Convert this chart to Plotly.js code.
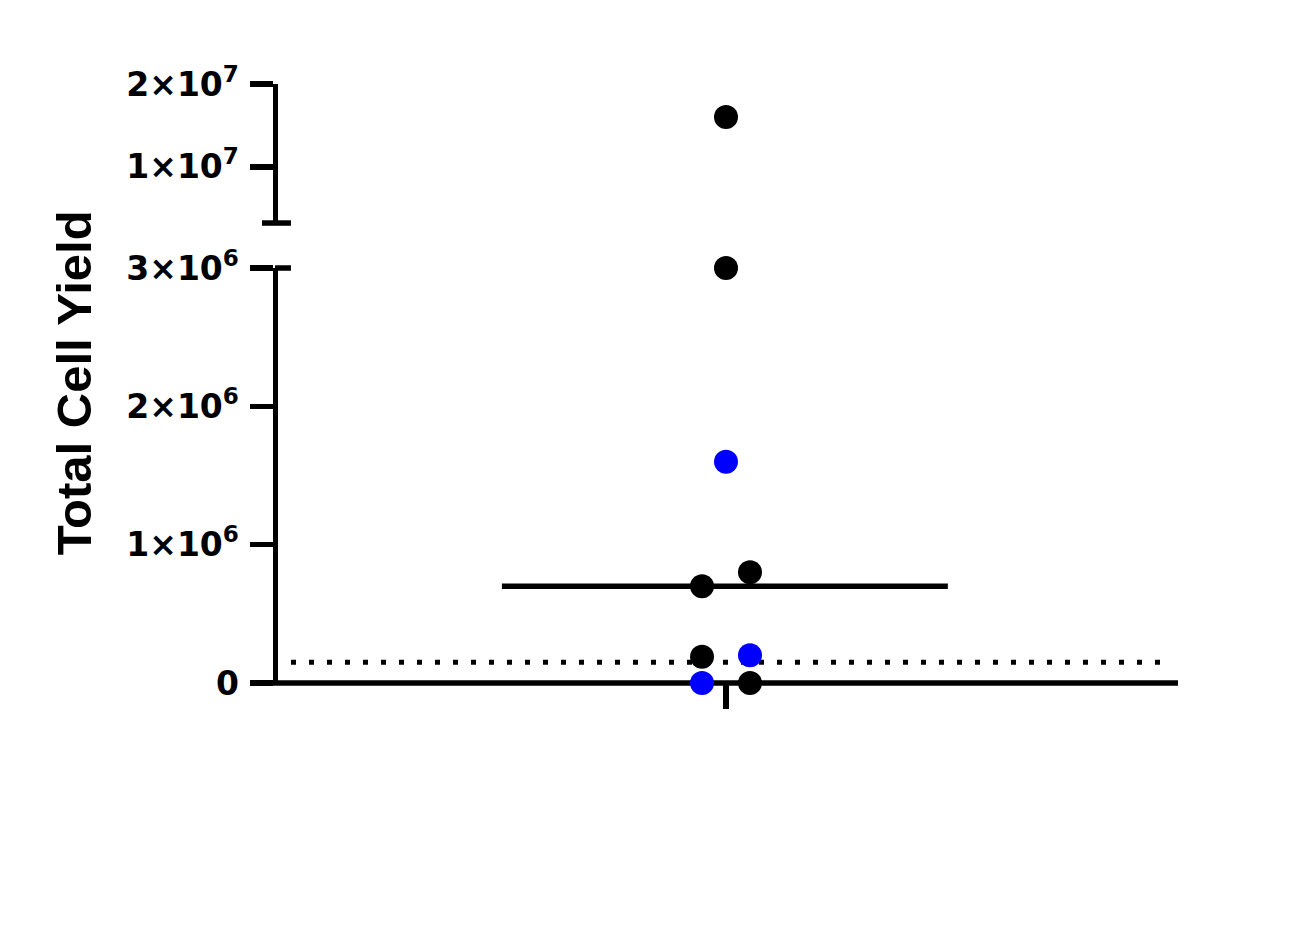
<!DOCTYPE html>
<html>
<head>
<meta charset="utf-8">
<script src="https://cdn.plot.ly/plotly-3.0.1.min.js"></script>
<style>html,body{margin:0;padding:0;background:#fff;}#chart{width:1314px;height:940px;}</style>
</head>
<body>
<div id="chart"></div>
<script>
// ---- data ----
const blackValues = [16000000, 3000000, 800000, 700000, 190000, 0];
const blackJitter = [0, 0, 0.0533, -0.0533, -0.0533, 0.0533];
const blueValues = [1600000, 200000, 0];
const blueJitter = [0, 0.0533, -0.0533];
const thresholdValue = 150000;
const lowerTickVals = [0, 1000000, 2000000, 3000000];
const lowerTickText = ['0', '1×10<sup>6</sup>', '2×10<sup>6</sup>', '3×10<sup>6</sup>'];
const upperTickVals = [10000000, 20000000];
const upperTickText = ['1×10<sup>7</sup>', '2×10<sup>7</sup>'];
const yTitle = 'Total Cell Yield';

const lowerMin = 0, lowerMax = 3000000, upperMin = 3200000, upperMax = 20000000;
const lowerDomain = [0, 0.6928], upperDomain = [0.7679, 1];

function median(a){const s=[...a].sort((p,q)=>p-q);const m=Math.floor(s.length/2);return s.length%2?s[m]:(s[m-1]+s[m])/2;}
const med = median(blackValues.concat(blueValues));

function split(vals, jit, color){
  const lo={x:[],y:[]}, hi={x:[],y:[]};
  vals.forEach((v,i)=>{ if(v>lowerMax){hi.x.push(jit[i]);hi.y.push(v);} else {lo.x.push(jit[i]);lo.y.push(v);} });
  const base={type:'scatter',mode:'markers',cliponaxis:false,hoverinfo:'y',marker:{size:24,color:color,line:{width:0}},showlegend:false};
  return [Object.assign({},base,{x:lo.x,y:lo.y,xaxis:'x',yaxis:'y'}),
          Object.assign({},base,{x:hi.x,y:hi.y,xaxis:'x',yaxis:'y2'})];
}
const traces = [...split(blackValues, blackJitter, '#000000'), ...split(blueValues, blueJitter, '#0000ff')];

const tickFont = {family:'DejaVu Sans, Liberation Sans, Arial, sans-serif', size:33, color:'#000', weight:'bold'};
const LW = 5.5;

const layout = {
  width:1314, height:940,
  margin:{l:278, r:136, t:84, b:257, pad:0},
  paper_bgcolor:'#fff', plot_bgcolor:'#fff',
  showlegend:false,
  xaxis:{range:[-0.99556, 1.00444], showgrid:false, zeroline:false, showline:false,
         tickmode:'array', tickvals:[0], ticktext:[''], ticks:'outside', ticklen:25, tickwidth:LW, tickcolor:'#000',
         anchor:'y', layer:'below traces', fixedrange:true},
  yaxis:{domain:lowerDomain, range:[lowerMin, lowerMax], showgrid:false, zeroline:false, showline:true, linecolor:'#000', linewidth:LW,
         tickmode:'array', tickvals:lowerTickVals, ticktext:lowerTickText, ticks:'outside', ticklen:23, tickwidth:LW, tickcolor:'#000',
         tickfont:tickFont, anchor:'x', layer:'below traces', ticklabelstandoff:4},
  yaxis2:{domain:upperDomain, range:[upperMin, upperMax], showgrid:false, zeroline:false, showline:true, linecolor:'#000', linewidth:LW,
         tickmode:'array', tickvals:upperTickVals, ticktext:upperTickText, ticks:'outside', ticklen:23, tickwidth:LW, tickcolor:'#000',
         tickfont:tickFont, anchor:'x', layer:'below traces', ticklabelstandoff:4},
  shapes:[
    // x axis baseline at value 0 (bottom of lower domain)
    {type:'line', xref:'paper', yref:'paper', x0:-0.0062, x1:1.0, y0:lowerDomain[0], y1:lowerDomain[0], line:{color:'#000', width:LW}, layer:'below'},
    {type:'line', xref:'x', yref:'y', x0:-0.498, x1:0.493, y0:med, y1:med, line:{color:'#000', width:LW}, layer:'below'},
    {type:'line', xref:'x', yref:'y', x0:-0.9667, x1:0.9644, y0:thresholdValue, y1:thresholdValue, line:{color:'#000', width:5, dash:'5px,13px'}, layer:'below'},
    // axis break caps
    {type:'line', xref:'paper', yref:'paper', x0:-0.0178, x1:0.0144, y0:upperDomain[0], y1:upperDomain[0], line:{color:'#000', width:LW}},
    {type:'line', xref:'paper', yref:'paper', x0:-0.0033, x1:0.0144, y0:lowerDomain[1], y1:lowerDomain[1], line:{color:'#000', width:LW}}
  ],
  annotations:[
    {text:yTitle, xref:'paper', yref:'paper', x:-0.2267, y:0.502, xanchor:'center', yanchor:'middle', showarrow:false, textangle:-90,
     font:{family:'Liberation Sans, Arial, sans-serif', size:49, color:'#000', weight:'bold'}}
  ]
};

Plotly.newPlot('chart', traces, layout, {staticPlot:true, displayModeBar:false});
</script>
</body>
</html>
